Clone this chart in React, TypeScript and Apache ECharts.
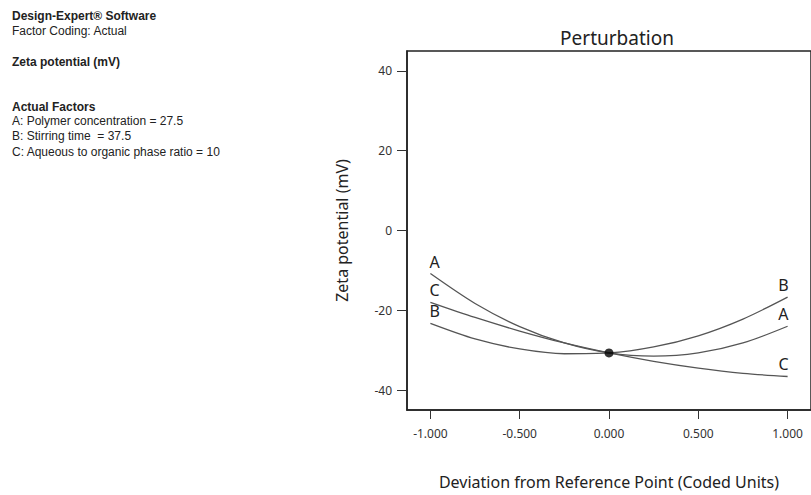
import React, { useEffect, useRef } from "react";
import * as echarts from "echarts";

const xValues = [-1, -0.75, -0.5, -0.25, 0, 0.25, 0.5, 0.75, 1];
const seriesA = [-10.8, -18.3, -24.1, -28.2, -30.7, -31.5, -30.7, -28.2, -24.0];
const seriesB = [-23.3, -27.2, -29.7, -30.9, -30.7, -29.2, -26.4, -22.2, -16.7];
const seriesC = [-18.0, -21.8, -25.2, -28.2, -30.7, -32.8, -34.5, -35.8, -36.6];
const seriesNames = ["A", "B", "C"];
const referencePoint = [0, -30.7];
const xTicks = [-1, -0.5, 0, 0.5, 1];
const yTicks = [-40, -20, 0, 20, 40];
const infoLines = [
  { text: "Design-Expert® Software", bold: true },
  { text: "Factor Coding: Actual", bold: false },
  { text: "Zeta potential (mV)", bold: true },
  { text: "Actual Factors", bold: true },
  { text: "A: Polymer concentration = 27.5", bold: false },
  { text: "B: Stirring time  = 37.5", bold: false },
  { text: "C: Aqueous to organic phase ratio = 10", bold: false },
];
const infoY = [16, 31, 62, 107, 121, 136, 152];

const FONT = "'Noto Sans', 'Open Sans', sans-serif";
const INFO_FONT = "'Liberation Sans', Arial, sans-serif";

export default function App() {
  const ref = useRef<HTMLDivElement>(null);
  useEffect(() => {
    if (!ref.current) return;
    const chart = echarts.init(ref.current, null, { renderer: "svg" });
    const allSeries = [seriesA, seriesB, seriesC];
    const lines = allSeries.map((vals, si) => ({
      type: "line",
      name: seriesNames[si],
      smooth: 0.3,
      showSymbol: true,
      symbol: "circle",
      symbolSize: 0,
      itemStyle: { color: "#555" },
      lineStyle: { color: "#555", width: 1.3 },
      z: 2,
      data: vals.map((v, i) => {
        const item: any = { value: [xValues[i], v] };
        if (i === 0 || i === vals.length - 1) {
          item.label = {
            show: true,
            formatter: seriesNames[si],
            position: "top",
            distance: 4,
            align: i === 0 ? "left" : "right",
            offset: i === 0 ? [-1, 0] : [1, 0],
            color: "#222",
            fontSize: 16,
            fontFamily: FONT,
          };
        }
        return item;
      }),
    }));
    chart.setOption({
      animation: false,
      title: {
        text: "Perturbation",
        left: 612,
        top: 23,
        textAlign: "center",
        textStyle: { fontSize: 19, fontWeight: "normal", color: "#222", fontFamily: FONT },
      },
      graphic: infoLines.map((l, i) => ({
        type: "text",
        left: 12,
        top: infoY[i] - 6,
        style: {
          text: l.text,
          fontSize: 12,
          lineHeight: 12,
          fontWeight: l.bold ? "bold" : "normal",
          fill: "#222",
          fontFamily: INFO_FONT,
        },
      })),
      grid: {
        left: 407,
        top: 51,
        width: 410,
        height: 362,
        show: true,
        borderColor: "#222",
        borderWidth: 1.5,
        backgroundColor: "transparent",
      },
      xAxis: {
        type: "value",
        min: -1.131,
        max: 1.131,
        name: "Deviation from Reference Point (Coded Units)",
        nameLocation: "middle",
        nameGap: 64,
        nameTextStyle: { fontSize: 16, color: "#222", fontFamily: FONT },
        splitLine: { show: false },
        axisLine: { show: true, onZero: false, lineStyle: { color: "#222", width: 1.5 } },
        axisTick: {
          show: true,
          length: 9,
          customValues: xTicks,
          lineStyle: { color: "#333", width: 1 },
        },
        axisLabel: {
          customValues: xTicks,
          formatter: (v: number) => v.toFixed(3),
          fontSize: 12,
          color: "#333",
          margin: 17,
          fontFamily: FONT,
        },
      },
      yAxis: {
        type: "value",
        min: -45,
        max: 45,
        name: "Zeta potential (mV)",
        nameLocation: "middle",
        nameGap: 57,
        nameTextStyle: { fontSize: 16, color: "#222", fontFamily: FONT },
        splitLine: { show: false },
        axisLine: { show: true, onZero: false, lineStyle: { color: "#222", width: 1.5 } },
        axisTick: {
          show: true,
          length: 10,
          customValues: yTicks,
          lineStyle: { color: "#333", width: 1 },
        },
        axisLabel: {
          customValues: yTicks,
          fontSize: 12,
          color: "#333",
          margin: 15,
          fontFamily: FONT,
        },
      },
      series: [
        ...lines,
        {
          type: "scatter",
          symbol: "circle",
          symbolSize: 9,
          itemStyle: { color: "#000" },
          z: 5,
          data: [referencePoint],
        },
      ],
    });
    return () => chart.dispose();
  }, []);
  return (
    <div
      ref={ref}
      style={{ position: "fixed", left: 0, top: 0, width: 811, height: 495, background: "#fff" }}
    />
  );
}
